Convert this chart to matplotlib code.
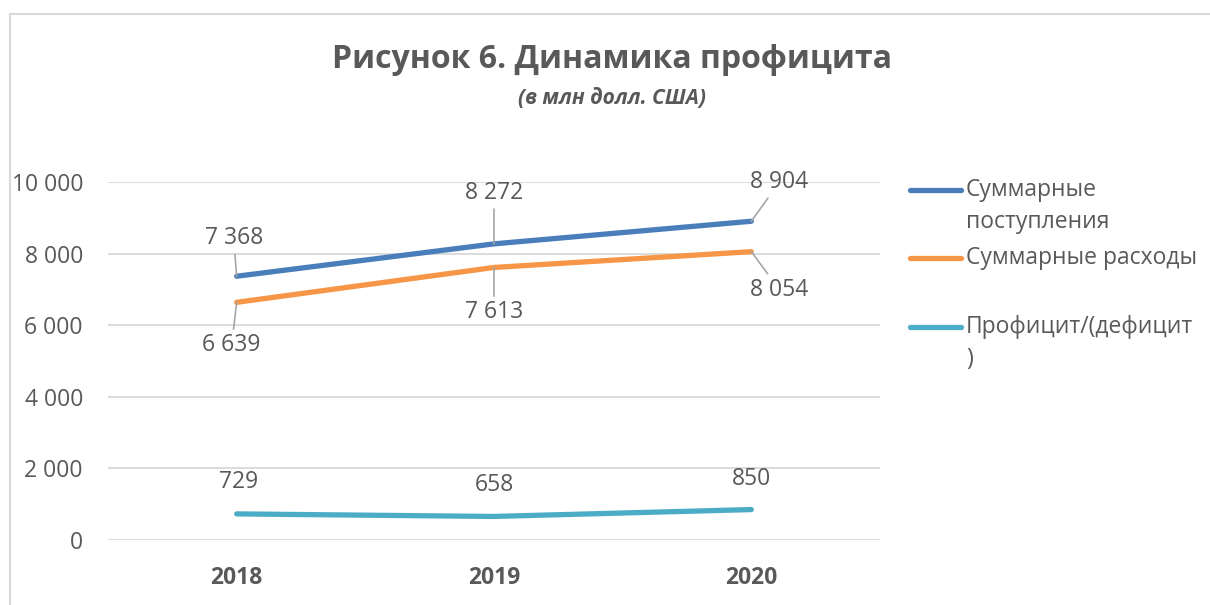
import matplotlib
matplotlib.use("Agg")
import matplotlib.pyplot as plt
from matplotlib.lines import Line2D
from matplotlib.patches import Rectangle

plt.rcParams["font.family"] = ["Open Sans", "DejaVu Sans"]

# ── Data ───────────────────────────────────────────────────────────────────────
years = ["2018", "2019", "2020"]
revenue = [7368, 8272, 8904]
expenses = [6639, 7613, 8054]
surplus = [729, 658, 850]
series_names = ["Суммарные\nпоступления", "Суммарные расходы", "Профицит/(дефицит\n)"]
yticks = [0, 2000, 4000, 6000, 8000, 10000]

C_REV = "#4a7ebb"; C_EXP = "#f79646"; C_SUR = "#4bacc6"
TXT = "#595959"; GRID = "#d9d9d9"
FS = 16.5


def fmt(v):
    return f"{v:,}".replace(",", " ")


fig = plt.figure(figsize=(12.1, 6.05), dpi=100)
fig.patch.set_facecolor("white")
ax = fig.add_axes([108 / 1210, 65 / 605, 772 / 1210, 358 / 605])

x = range(len(years))
for vals, c in [(revenue, C_REV), (expenses, C_EXP), (surplus, C_SUR)]:
    ax.plot(x, vals, color=c, lw=3.8, solid_capstyle="round", zorder=3)

ax.set_xlim(-0.5, len(years) - 0.5)
ax.set_ylim(0, 10000)
ax.set_yticks(yticks)
ax.set_yticklabels([fmt(v) for v in yticks], fontsize=FS, color=TXT)
ax.set_xticks(list(x))
ax.set_xticklabels(years, fontsize=FS, fontweight="bold", color=TXT)
ax.tick_params(length=0)
ax.tick_params(axis="y", pad=18)
ax.tick_params(axis="x", pad=19)
ax.grid(axis="y", color=GRID, lw=1.3)
ax.set_axisbelow(True)
for s in ax.spines.values():
    s.set_visible(False)

# ── Data labels (offsets in pixels, leader where the label was moved) ──────────
lead = dict(arrowstyle="-", color="#a6a6a6", lw=1.2, shrinkA=1, shrinkB=0)
label_specs = [
    (revenue,  [(-3, 38, True), (0, 51, True), (28, 39, True)]),
    (expenses, [(-5, -43, True), (0, -45, True), (28, -38, True)]),
    (surplus,  [(2, 32, False), (0, 31, False), (0, 31, False)]),
]
for vals, offs in label_specs:
    for i, (v, (dx, dy, leader)) in enumerate(zip(vals, offs)):
        ax.annotate(fmt(v), xy=(i, v), xytext=(dx, dy), textcoords="offset pixels",
                    ha="center", va="center", fontsize=FS, color=TXT,
                    arrowprops=lead if leader else None, zorder=4)

# ── Title ─────────────────────────────────────────────────────────────────────
fig.text(612 / 1210, 1 - 60 / 605, "Рисунок 6. Динамика профицита",
         ha="center", va="center", fontsize=23, fontweight="bold", color=TXT)
fig.text(612 / 1210, 1 - 99 / 605, "(в млн долл. США)",
         ha="center", va="center", fontsize=15, fontweight="bold",
         fontstyle="italic", color=TXT)

# ── Legend (drawn by hand to match the wrapped entries) ───────────────────────
leg_y = [190, 258, 327]
for name, c, yy in zip(series_names, [C_REV, C_EXP, C_SUR], leg_y):
    fy = 1 - yy / 605
    fig.add_artist(Line2D([910 / 1210, 961 / 1210], [fy, fy], color=c, lw=3.8,
                          solid_capstyle="round", transform=fig.transFigure))
    fig.text(966 / 1210, fy + 12 / 605, name, ha="left", va="top",
             fontsize=FS, color=TXT, linespacing=1.42)

# ── Chart border ──────────────────────────────────────────────────────────────
fig.add_artist(Rectangle((10 / 1210, -0.1), 1.2, 1 - 14 / 605 + 0.1,
                         transform=fig.transFigure, fill=False,
                         edgecolor=GRID, lw=1.5))

fig.savefig("out.png", dpi=100, facecolor="white")
